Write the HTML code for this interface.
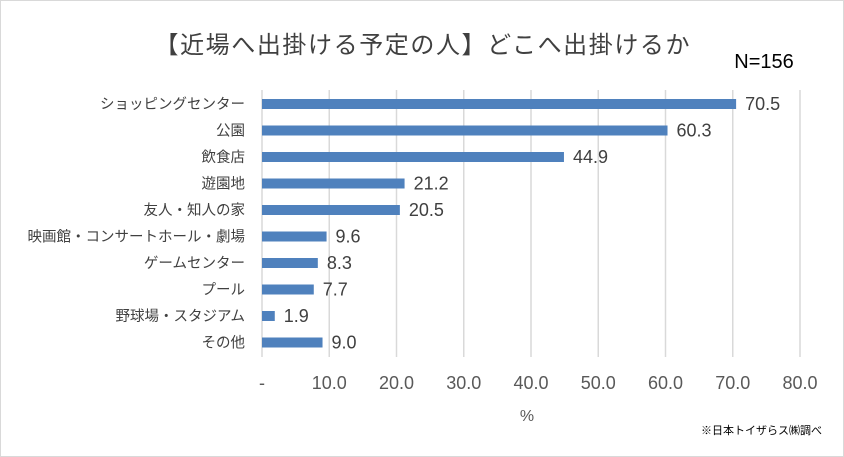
<!DOCTYPE html>
<html><head><meta charset="utf-8"><style>
body{margin:0;background:#fff}
svg{display:block;font-family:"Liberation Sans","Noto Sans CJK JP",sans-serif}
</style></head><body>
<svg id="c" width="844" height="457" viewBox="0 0 844 457">
<rect x="0.5" y="0.5" width="843" height="456" fill="#fff" stroke="#d9d9d9"/>
<text x="422" y="53" font-size="24" text-anchor="middle" fill="#404040" textLength="535">【近場へ出掛ける予定の人】どこへ出掛けるか</text>
<text x="764" y="68" font-size="20" text-anchor="middle" fill="#000">N=156</text>
<text x="527" y="421" font-size="16" text-anchor="middle" fill="#595959">%</text>
<text x="822" y="434" font-size="11" text-anchor="end" fill="#000">※日本トイザらス㈱調べ</text>
<g id="grid"></g><g id="bars"></g><g id="labels"></g>
</svg>
<script>
const categories=["ショッピングセンター","公園","飲食店","遊園地","友人・知人の家","映画館・コンサートホール・劇場","ゲームセンター","プール","野球場・スタジアム","その他"];
const values=[70.5,60.3,44.9,21.2,20.5,9.6,8.3,7.7,1.9,9.0];
const ticks=[0,10,20,30,40,50,60,70,80];
const tickLabels=["-","10.0","20.0","30.0","40.0","50.0","60.0","70.0","80.0"];
const NS="http://www.w3.org/2000/svg";
const x0=262,xs=67.25,yTop=90,yBot=357,y1=104,dy=26.5,bh=10;
const X=v=>x0+v*xs/10, Y=i=>y1+i*dy;
function mk(t,a){const e=document.createElementNS(NS,t);for(const k in a)e.setAttribute(k,a[k]);return e;}
const g=document.getElementById('grid'),b=document.getElementById('bars'),l=document.getElementById('labels');
ticks.forEach((t,i)=>{
 const ln=mk('line',{x1:X(t),x2:X(t),y1:yTop,y2:yBot,stroke:'#d9d9d9','stroke-width':1.5});
 
 
 g.appendChild(ln);
 const tx=mk('text',{x:X(t),y:389,'font-size':18,'text-anchor':'middle',fill:'#595959'});
 tx.textContent=tickLabels[i];
 
 
 l.appendChild(tx);
});
categories.forEach((c,i)=>{
 const r=mk('rect',{x:X(0),y:Y(i)-bh/2,width:X(values[i])-X(0),height:bh,fill:'#4f81bd'});
 
 
 b.appendChild(r);
 const v=mk('text',{x:X(values[i])+9,y:Y(i)+6,'font-size':18,fill:'#404040'});
 v.textContent=values[i].toFixed(1);
 
 
 l.appendChild(v);
 const ct=mk('text',{x:245,y:Y(i)+5,'font-size':14.5,'text-anchor':'end',fill:'#404040'});
 ct.textContent=c;
 
 
 l.appendChild(ct);
});
</script>
</body></html>
